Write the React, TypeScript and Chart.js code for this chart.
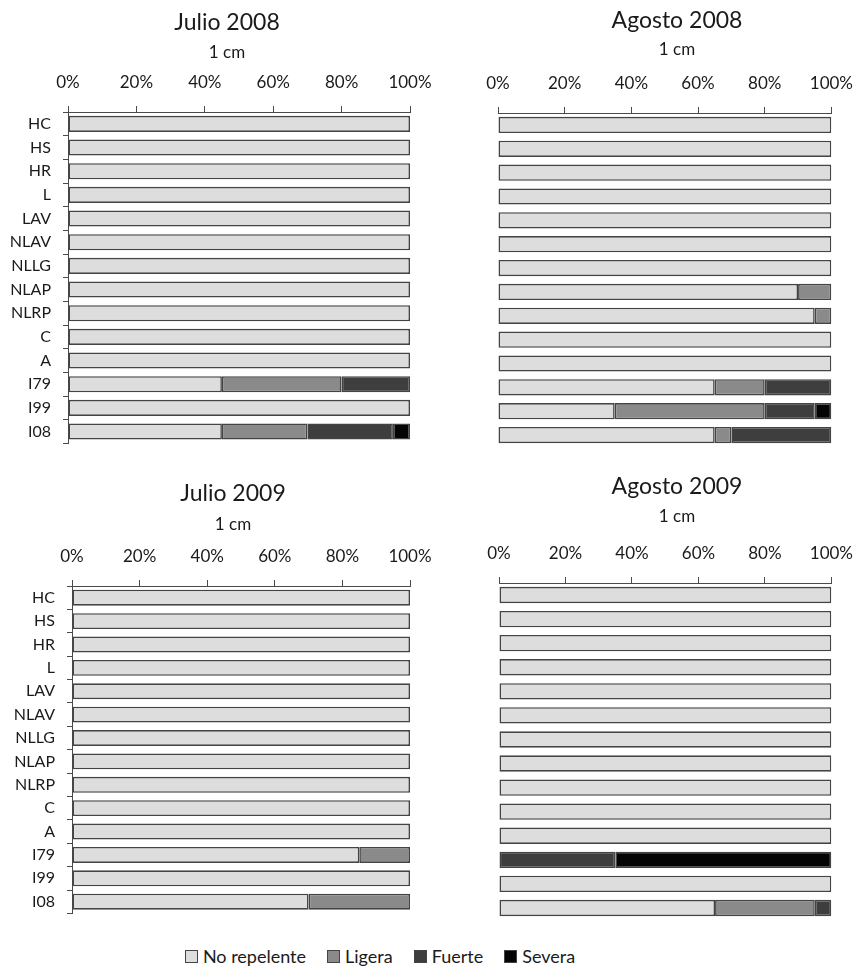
import React, { useEffect, useRef } from 'react';
import { Chart, registerables } from 'chart.js';
Chart.register(...registerables);

const categories = ['HC', 'HS', 'HR', 'L', 'LAV', 'NLAV', 'NLLG', 'NLAP', 'NLRP', 'C', 'A', 'I79', 'I99', 'I08'];
const seriesNames = ['No repelente', 'Ligera', 'Fuerte', 'Severa'];
const seriesColors = ['#dddddd', '#8a8a8a', '#3e3e3e', '#050505'];
const xTicks = [0, 20, 40, 60, 80, 100];

const julio2008NoRepelente = [100, 100, 100, 100, 100, 100, 100, 100, 100, 100, 100, 45, 100, 45];
const julio2008Ligera = [0, 0, 0, 0, 0, 0, 0, 0, 0, 0, 0, 35, 0, 25];
const julio2008Fuerte = [0, 0, 0, 0, 0, 0, 0, 0, 0, 0, 0, 20, 0, 25];
const julio2008Severa = [0, 0, 0, 0, 0, 0, 0, 0, 0, 0, 0, 0, 0, 5];

const agosto2008NoRepelente = [100, 100, 100, 100, 100, 100, 100, 90, 95, 100, 100, 65, 35, 65];
const agosto2008Ligera = [0, 0, 0, 0, 0, 0, 0, 10, 5, 0, 0, 15, 45, 5];
const agosto2008Fuerte = [0, 0, 0, 0, 0, 0, 0, 0, 0, 0, 0, 20, 15, 30];
const agosto2008Severa = [0, 0, 0, 0, 0, 0, 0, 0, 0, 0, 0, 0, 5, 0];

const julio2009NoRepelente = [100, 100, 100, 100, 100, 100, 100, 100, 100, 100, 100, 85, 100, 70];
const julio2009Ligera = [0, 0, 0, 0, 0, 0, 0, 0, 0, 0, 0, 15, 0, 30];
const julio2009Fuerte = [0, 0, 0, 0, 0, 0, 0, 0, 0, 0, 0, 0, 0, 0];
const julio2009Severa = [0, 0, 0, 0, 0, 0, 0, 0, 0, 0, 0, 0, 0, 0];

const agosto2009NoRepelente = [100, 100, 100, 100, 100, 100, 100, 100, 100, 100, 100, 0, 100, 65];
const agosto2009Ligera = [0, 0, 0, 0, 0, 0, 0, 0, 0, 0, 0, 0, 0, 30];
const agosto2009Fuerte = [0, 0, 0, 0, 0, 0, 0, 0, 0, 0, 0, 35, 0, 5];
const agosto2009Severa = [0, 0, 0, 0, 0, 0, 0, 0, 0, 0, 0, 65, 0, 0];

const FONT = 'Lato, "DejaVu Sans", sans-serif';
const TEXT = '#1a1a1a';
const LINE = '#4a4a4a';

const titlePlugin = {
  id: 'panelTitles',
  afterDraw(chart: any, _args: any, opts: any) {
    const ctx = chart.ctx;
    ctx.save();
    ctx.fillStyle = TEXT;
    ctx.textAlign = 'center';
    ctx.textBaseline = 'middle';
    ctx.font = `23px ${FONT}`;
    ctx.fillText(opts.title, opts.x, opts.y1);
    ctx.font = `17px ${FONT}`;
    ctx.fillText(opts.sub, opts.x, opts.y2);
    ctx.restore();
  },
};

type PanelProps = {
  title: string;
  series: number[][];
  rect: [number, number, number, number];
  area: [number, number, number, number];
  showY: boolean;
  titleX: number;
  titleY: number;
  subY: number;
};

const X_H = 40;
const Y_W = 66;

function Panel({ title, series, rect, area, showY, titleX, titleY, subY }: PanelProps) {
  const ref = useRef<HTMLCanvasElement>(null);
  useEffect(() => {
    const [cx, cy, cw, ch] = rect;
    const [l, t, r, b] = area;
    const yW = showY ? Y_W : 0;
    const chart = new Chart(ref.current as HTMLCanvasElement, {
      type: 'bar',
      data: {
        labels: categories,
        datasets: series.map((vals, i) => ({
          label: seriesNames[i],
          data: vals.map((v) => (v === 0 ? null : v)),
          backgroundColor: seriesColors[i],
          borderColor: '#444444',
          borderWidth: 1.6,
          borderSkipped: false,
          barPercentage: 0.68,
          categoryPercentage: 1,
        })),
      },
      options: {
        indexAxis: 'y',
        responsive: false,
        animation: false,
        layout: {
          padding: { left: l - cx - yW, top: t - cy - X_H, right: cx + cw - r, bottom: cy + ch - b },
        },
        plugins: {
          legend: { display: false },
          tooltip: { enabled: false },
          panelTitles: { title, sub: '1 cm', x: titleX - cx, y1: titleY - cy, y2: subY - cy },
        } as any,
        scales: {
          x: {
            position: 'top',
            stacked: true,
            min: 0,
            max: 100,
            afterBuildTicks: (s: any) => {
              s.ticks = xTicks.map((v) => ({ value: v }));
            },
            afterFit: (s: any) => {
              s.height = X_H;
            },
            ticks: {
              callback: (v: any) => v + '%',
              color: TEXT,
              font: { family: FONT, size: 17 },
              padding: 13,
              maxRotation: 0,
            },
            grid: { drawOnChartArea: false, drawTicks: true, tickLength: 6, color: LINE },
            border: { display: true, color: LINE, width: 1 },
          },
          y: {
            display: showY,
            stacked: true,
            afterFit: (s: any) => {
              s.width = yW;
            },
            ticks: {
              color: TEXT,
              font: { family: FONT, size: 16 },
              padding: 12,
            },
            grid: { drawOnChartArea: false, drawTicks: true, tickLength: 5, color: LINE, offset: true },
            border: { display: true, color: LINE, width: 1 },
          },
        },
      },
      plugins: [titlePlugin],
    });
    return () => chart.destroy();
  }, []);
  const [cx, cy, cw, ch] = rect;
  return (
    <canvas
      ref={ref}
      width={cw}
      height={ch}
      style={{ position: 'absolute', left: cx, top: cy, width: cw, height: ch }}
    />
  );
}

function Legend() {
  const items = seriesNames.map((n, i) => ({ n, c: seriesColors[i] }));
  return (
    <div
      style={{
        position: 'absolute',
        left: 0,
        top: 945,
        width: 760,
        display: 'flex',
        justifyContent: 'center',
        gap: 21,
        fontFamily: FONT,
        fontSize: 18,
        color: TEXT,
        lineHeight: '22px',
      }}
    >
      {items.map((it) => (
        <div key={it.n} style={{ display: 'flex', alignItems: 'center' }}>
          <span
            style={{
              display: 'inline-block',
              width: 11,
              height: 11,
              background: it.c,
              border: '1px solid #444',
              marginRight: 5,
            }}
          />
          <span>{it.n}</span>
        </div>
      ))}
    </div>
  );
}

export default function App() {
  return (
    <div style={{ position: 'absolute', left: 0, top: 0, width: 866, height: 966, background: '#fff' }}>
      <Panel
        title="Julio 2008"
        series={[julio2008NoRepelente, julio2008Ligera, julio2008Fuerte, julio2008Severa]}
        rect={[0, 0, 455, 465]}
        area={[68, 112, 410, 450]}
        showY={true}
        titleX={227}
        titleY={23}
        subY={53}
      />
      <Panel
        title="Agosto 2008"
        series={[agosto2008NoRepelente, agosto2008Ligera, agosto2008Fuerte, agosto2008Severa]}
        rect={[440, 0, 426, 465]}
        area={[498, 113, 841, 447]}
        showY={false}
        titleX={677}
        titleY={21}
        subY={50}
      />
      <Panel
        title="Julio 2009"
        series={[julio2009NoRepelente, julio2009Ligera, julio2009Fuerte, julio2009Severa]}
        rect={[0, 465, 455, 470]}
        area={[72, 586, 410, 924]}
        showY={true}
        titleX={233}
        titleY={494}
        subY={525}
      />
      <Panel
        title="Agosto 2009"
        series={[agosto2009NoRepelente, agosto2009Ligera, agosto2009Fuerte, agosto2009Severa]}
        rect={[440, 465, 426, 470]}
        area={[499, 583, 841, 920]}
        showY={false}
        titleX={677}
        titleY={487}
        subY={517}
      />
      <Legend />
    </div>
  );
}
